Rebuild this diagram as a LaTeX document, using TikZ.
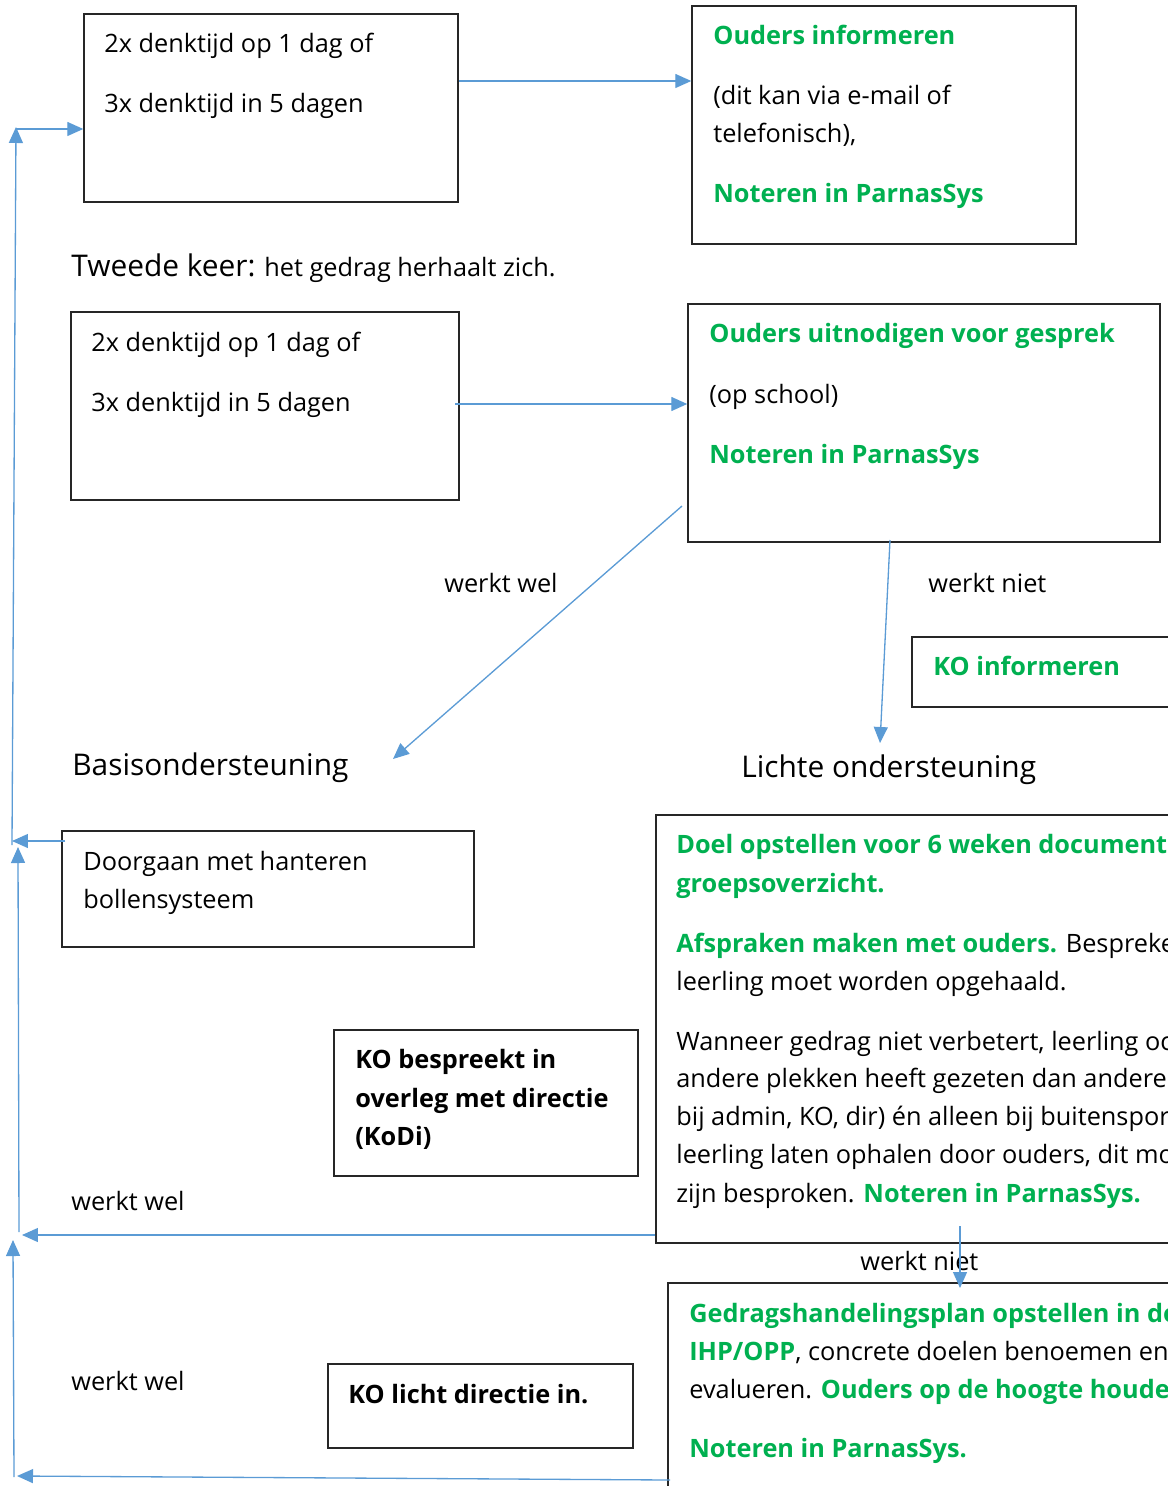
\documentclass[tikz,border=0pt]{standalone}
\usepackage{fontspec}
\setmainfont{Open Sans}
\usetikzlibrary{arrows.meta,fit}
\definecolor{groen}{HTML}{00B050}
\definecolor{blauw}{HTML}{5B9BD5}
\newcommand{\groen}[1]{{\color{groen}\bfseries #1}}
\tikzset{
	kader/.style = {draw = black!85, line width = 0.8pt, inner sep = 0pt},
	tekst/.style = {anchor = base west, inner sep = 0pt, font = \fontsize{14.4}{17}\selectfont},
	kop/.style = {anchor = base west, inner sep = 0pt, font = \fontsize{17}{20}\selectfont},
	pijl/.style = {draw = blauw, line width = 0.75pt, -{Triangle[length = 0.32cm, width = 0.28cm]}}
}
\begin{document}
\begin{tikzpicture}[x = 0.02cm, y = -0.02cm]
	\useasboundingbox (0, 0) rectangle (1168, 1486);
	\clip (0, 0) rectangle (1168, 1486);
	\node[kader, fit = {(84, 14) (458, 202)}] (denk1) {};
	\node[kader, fit = {(692, 6) (1076, 244)}] (info) {};
	\node[kader, fit = {(71, 312) (459, 500)}] (denk2) {};
	\node[kader, fit = {(688, 304) (1160, 542)}] (gesprek) {};
	\node[kader, fit = {(912, 637) (1200, 707)}] (koinfo) {};
	\node[kader, fit = {(62, 831) (474, 947)}] (doorgaan) {};
	\node[kader, fit = {(656, 815) (1200, 1243)}] (doel) {};
	\node[kader, fit = {(334, 1030) (638, 1176)}] (kodi) {};
	\node[kader, fit = {(668, 1283) (1200, 1540)}] (plan) {};
	\node[kader, fit = {(328, 1364) (633, 1448)}] (licht) {};
	\node[tekst] (denk1a) at (104, 53) {2x denktijd op 1 dag of};
	\node[tekst] (denk1b) at (104, 113) {3x denktijd in 5 dagen};
	\node[tekst] (info1) at (713, 45) {\groen{Ouders informeren}};
	\node[tekst] (info2) at (713, 105) {(dit kan via e-mail of};
	\node[tekst] (info3) at (713, 143) {telefonisch),};
	\node[tekst] (info4) at (713, 203) {\groen{Noteren in ParnasSys}};
	\node[tekst] (tweede) at (71, 277) {{\fontsize{17}{20}\selectfont Tweede keer:} het gedrag herhaalt zich.};
	\node[tekst] (denk2a) at (91, 352) {2x denktijd op 1 dag of};
	\node[tekst] (denk2b) at (91, 412) {3x denktijd in 5 dagen};
	\node[tekst] (gesprek1) at (709, 343) {\groen{Ouders uitnodigen voor gesprek}};
	\node[tekst] (gesprek2) at (709, 403) {(op school)};
	\node[tekst] (gesprek3) at (709, 463) {\groen{Noteren in ParnasSys}};
	\node[tekst] (wel1) at (444, 592) {werkt wel};
	\node[tekst] (niet1) at (928, 592) {werkt niet};
	\node[tekst] (koinfo1) at (933, 675) {\groen{KO informeren}};
	\node[kop] (basis) at (72, 775) {Basisondersteuning};
	\node[kop] (lichte) at (741, 777) {Lichte ondersteuning};
	\node[tekst] (doorgaan1) at (83, 870) {Doorgaan met hanteren};
	\node[tekst] (doorgaan2) at (83, 908) {bollensysteem};
	\node[tekst] (doel1) at (676, 853) {\groen{Doel opstellen voor 6 weken document}};
	\node[tekst] (doel2) at (676, 892) {\groen{groepsoverzicht.}};
	\node[tekst] (doel3) at (676, 952) {\groen{Afspraken maken met ouders.} Bespreke};
	\node[tekst] (doel4) at (676, 990) {leerling moet worden opgehaald.};
	\node[tekst] (doel5) at (676, 1050) {Wanneer gedrag niet verbetert, leerling oc};
	\node[tekst] (doel6) at (676, 1087) {andere plekken heeft gezeten dan andere};
	\node[tekst] (doel7) at (676, 1125) {bij admin, KO, dir) én alleen bij buitenspor};
	\node[tekst] (doel8) at (676, 1163) {leerling laten ophalen door ouders, dit mo};
	\node[tekst] (doel9) at (676, 1202) {zijn besproken. \groen{Noteren in ParnasSys.}};
	\node[tekst, font = \fontsize{14.4}{17}\selectfont\bfseries] (kodi1) at (355, 1068) {KO bespreekt in};
	\node[tekst, font = \fontsize{14.4}{17}\selectfont\bfseries] (kodi2) at (355, 1107) {overleg met directie};
	\node[tekst, font = \fontsize{14.4}{17}\selectfont\bfseries] (kodi3) at (355, 1145) {(KoDi)};
	\node[tekst] (wel2) at (71, 1210) {werkt wel};
	\node[tekst] (niet2) at (860, 1270) {werkt niet};
	\node[tekst] (plan1) at (689, 1322) {\groen{Gedragshandelingsplan opstellen in do}};
	\node[tekst] (plan2) at (689, 1360) {\groen{IHP/OPP}, concrete doelen benoemen en};
	\node[tekst] (plan3) at (689, 1398) {evalueren. \groen{Ouders op de hoogte houde}};
	\node[tekst] (plan4) at (689, 1457) {\groen{Noteren in ParnasSys.}};
	\node[tekst] (wel3) at (71, 1390) {werkt wel};
	\node[tekst, font = \fontsize{14.4}{17}\selectfont\bfseries] (licht1) at (348, 1403) {KO licht directie in.};
	\coordinate (basistip) at (393, 759);
	\coordinate (lichtetip) at (880, 743);
	\coordinate (links1) at (12, 841);
	\coordinate (links2) at (12, 845);
	\coordinate (links3) at (16, 127);
	\coordinate (links4) at (19, 1232);
	\coordinate (links5) at (18, 847);
	\coordinate (links6) at (22, 1235);
	\coordinate (links7) at (14, 1477);
	\coordinate (links8) at (13, 1240);
	\coordinate (links9) at (17, 1476);
	\draw[pijl] (denk1.east |- 0, 81) -- (info.west |- 0, 81);
	\draw[pijl] (455, 404) -- (gesprek.west |- 0, 404);
	\draw[pijl] (682, 506) -- (basistip);
	\draw[pijl] (890, 540) -- (lichtetip);
	\draw[pijl] (doorgaan.west |- links1) ++ (4, 0) -- (links1);
	\draw[pijl] (links2) -- (links3);
	\draw[pijl] (16, 129) -- (denk1.west |- 0, 129);
	\draw[pijl] (links4) -- (links5);
	\draw[pijl] (doel.west |- links6) -- (links6);
	\draw[pijl] (960, 1226) -- (960, 1288);
	\draw[pijl] (links7) -- (links8);
	\draw[pijl] (670, 1480) -- (links9);
\end{tikzpicture}
\end{document}
